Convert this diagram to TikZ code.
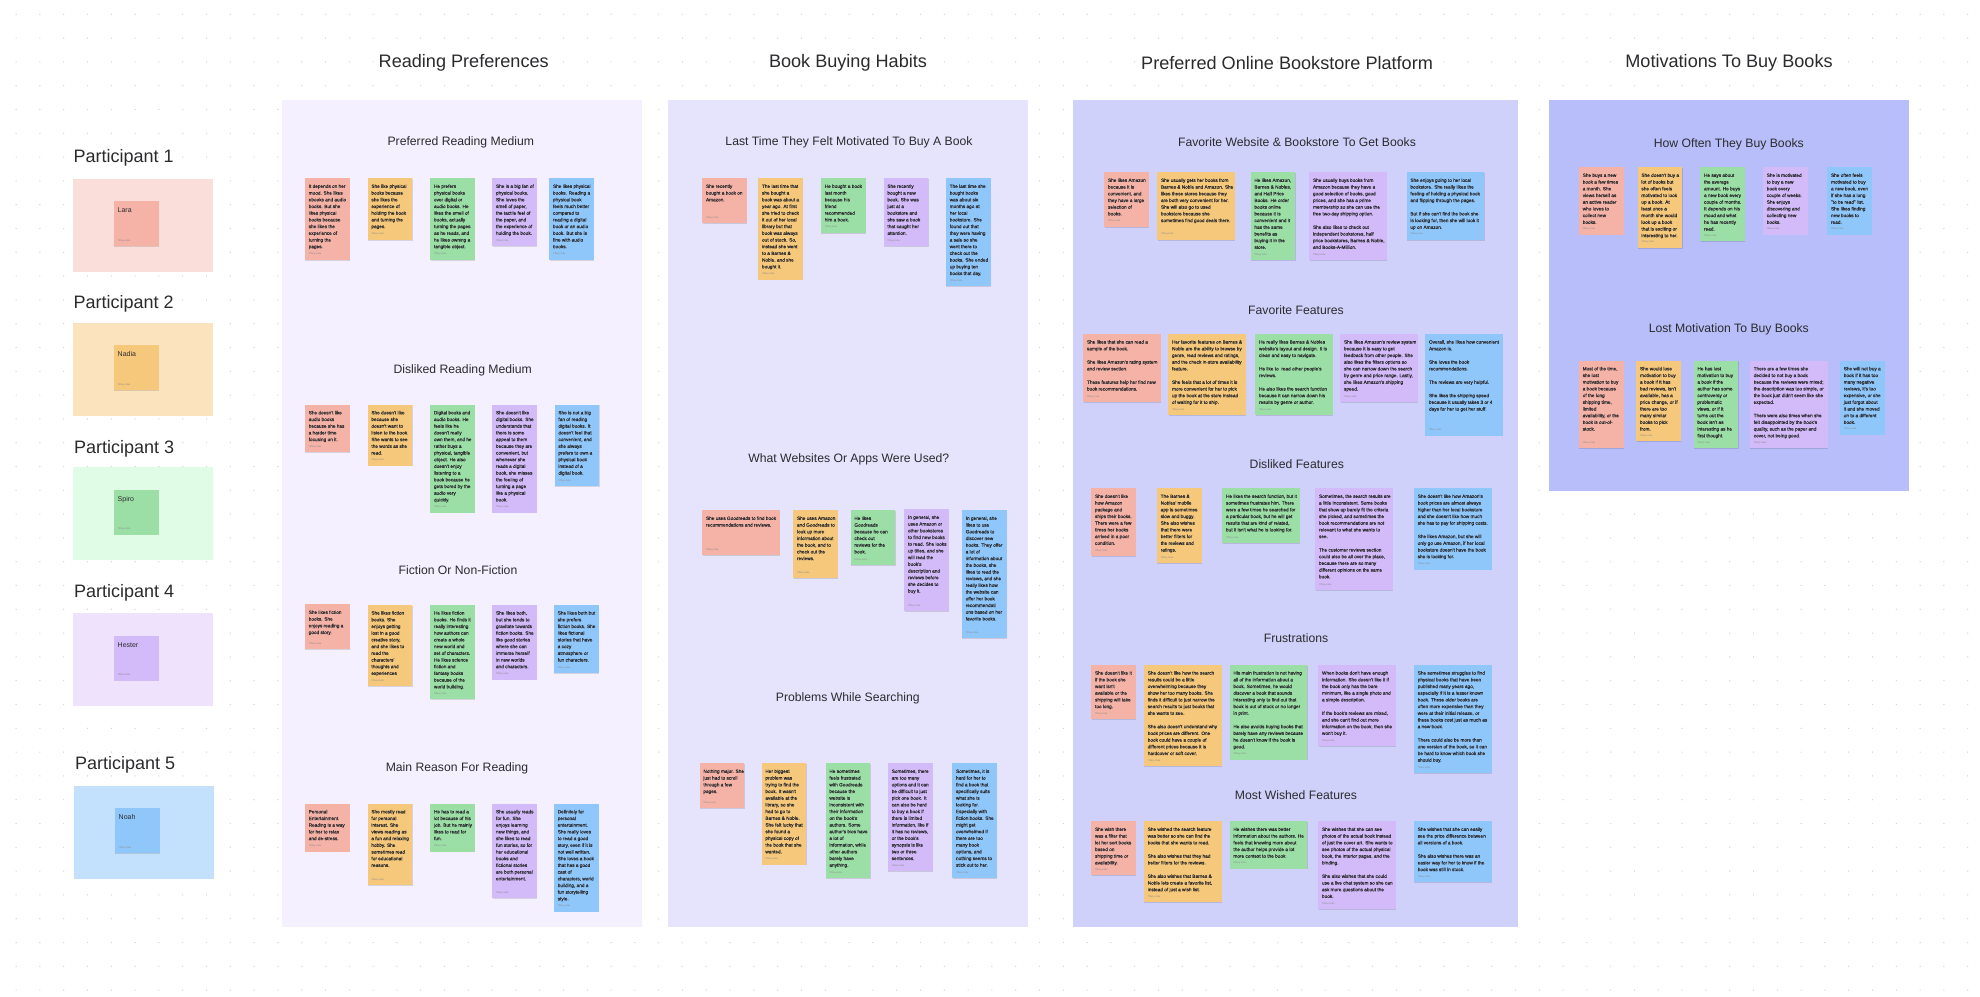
\documentclass[tikz,border=0pt]{standalone}
\usepackage{fontspec}
\setmainfont{Liberation Sans}
\newfontfamily\notefont[FakeBold=0.12]{Liberation Sans}
\usetikzlibrary{shadows}
\definecolor{nred}{HTML}{F5B2A7}
\definecolor{norg}{HTML}{F6C87B}
\definecolor{ngrn}{HTML}{9BDFA6}
\definecolor{npur}{HTML}{D3BAF9}
\definecolor{nblu}{HTML}{90C7FB}
\definecolor{ink}{HTML}{2B2B2E}
\definecolor{griddot}{HTML}{D4D4D4}
\definecolor{pan1c}{HTML}{F4F0FF}
\definecolor{pan2c}{HTML}{E6E3FC}
\definecolor{pan3c}{HTML}{CFD1FA}
\definecolor{pan4c}{HTML}{B8BEF9}
\definecolor{bgred}{HTML}{FADEDA}
\definecolor{bgorg}{HTML}{FAE3BD}
\definecolor{bggrn}{HTML}{E0FCE6}
\definecolor{bgpur}{HTML}{EFE2FC}
\definecolor{bgblu}{HTML}{C3E1FC}
\tikzset{
  griddotstyle/.style={fill=griddot},
  stickybox/.style={draw=none,inner sep=0pt,outer sep=0pt,anchor=north west,
    drop shadow={shadow xshift=0.2pt,shadow yshift=-0.5pt,opacity=.12,fill=black}},
  stickytext/.style={inner sep=0pt,outer sep=0pt,anchor=north west,align=left,text=ink,
    font=\notefont\fontsize{4.72}{6.7}\selectfont},
  stickyauthor/.style={inner sep=0pt,outer sep=0pt,anchor=west,text=ink!55,
    font=\fontsize{2.3}{3}\selectfont},
  panelbox/.style={draw=none,inner sep=0pt,outer sep=0pt,anchor=north west},
  headtitle/.style={inner sep=0pt,text=ink,yshift=-1pt,font=\fontsize{18.1}{22}\selectfont},
  parttitle/.style={inner sep=0pt,anchor=west,text=ink,yshift=-2pt,font=\fontsize{18}{21}\selectfont},
  secttitle/.style={inner sep=0pt,text=ink,yshift=-1pt,font=\fontsize{12.2}{15}\selectfont},
  nametext/.style={inner sep=0pt,outer sep=0pt,anchor=north west,text=ink,font=\fontsize{7}{8}\selectfont},
}
% id, colour, x, y, width, height, text
\newcommand{\stk}[7]{%
  \node[stickybox,fill=#2,minimum width=#5pt,minimum height=#6pt] (#1) at (#3,#4) {};
  \node[stickytext] (#1t) at ([xshift=3.7pt,yshift=-6.2pt]#1.north west) {#7};
  \node[stickyauthor] (#1a) at ([xshift=3.7pt,yshift=5.6pt]#1.south west) {Tiffany India};
}
\newcommand{\prt}[8]{%
  \node[parttitle] (#1l) at (#7,#8) {#6};
  \node[panelbox,fill=#2,minimum width=139.5pt,minimum height=93pt] (#1) at (#3,#4) {};
  \node[stickybox,fill=#5,minimum width=45pt,minimum height=45pt,xshift=41pt,yshift=-22.5pt] (#1n) at (#3,#4) {};
}
\begin{document}
\begin{tikzpicture}[x=1pt,y=-1pt]
\useasboundingbox (0,0) rectangle (1980,996);
\fill[white] (0,0) rectangle (1980,996);
\foreach \i in {0,...,83} { \foreach \j in {0,...,41} { \fill[griddotstyle] ({16.1+23.8*\i},{14.3+23.8*\j}) circle (0.7); } }

% headings
\node[headtitle] (h1) at (463.7,62.3) {Reading Preferences};
\node[headtitle] (h2) at (848,62.3) {Book Buying Habits};
\node[headtitle,anchor=west] (h3) at (1141,62.3) {Preferred Online Bookstore Platform};
\node[headtitle] (h4) at (1729,62.3) {Motivations To Buy Books};

% participants
\prt{pa}{bgred}{73}{178.7}{nred}{Participant 1}{73.3}{156}
\node[nametext] (pat) at ([xshift=3.7pt,yshift=-6.5pt]pan.north west) {Lara};
\node[stickyauthor] (paa) at ([xshift=3.7pt,yshift=5.6pt]pan.south west) {Tiffany India};
\prt{pb}{bgorg}{73}{322.7}{norg}{Participant 2}{73.3}{302.3}
\node[nametext] (pbt) at ([xshift=3.7pt,yshift=-6.5pt]pbn.north west) {Nadia};
\node[stickyauthor] (pba) at ([xshift=3.7pt,yshift=5.6pt]pbn.south west) {Tiffany India};
\prt{pc}{bggrn}{73}{467}{ngrn}{Participant 3}{74}{446.7}
\node[nametext] (pct) at ([xshift=3.7pt,yshift=-6.5pt]pcn.north west) {Spiro};
\node[stickyauthor] (pca) at ([xshift=3.7pt,yshift=5.6pt]pcn.south west) {Tiffany India};
\prt{pd}{bgpur}{73}{613.3}{npur}{Participant 4}{74}{590.7}
\node[nametext] (pdt) at ([xshift=3.7pt,yshift=-6.5pt]pdn.north west) {Hester};
\node[stickyauthor] (pda) at ([xshift=3.7pt,yshift=5.6pt]pdn.south west) {Tiffany India};
\prt{pe}{bgblu}{74}{785.7}{nblu}{Participant 5}{75}{762.7}
\node[nametext] (pet) at ([xshift=3.7pt,yshift=-6.5pt]pen.north west) {Noah};
\node[stickyauthor] (pea) at ([xshift=3.7pt,yshift=5.6pt]pen.south west) {Tiffany India};

% panels
\node[panelbox,fill=pan1c,minimum width=360pt,minimum height=827pt] (pan1) at (281.7,100) {};
\node[panelbox,fill=pan2c,minimum width=360pt,minimum height=827pt] (pan2) at (668,100) {};
\node[panelbox,fill=pan3c,minimum width=444.7pt,minimum height=827pt] (pan3) at (1073.3,100) {};
\node[panelbox,fill=pan4c,minimum width=360.3pt,minimum height=391pt] (pan4) at (1549,100) {};

% panel 1 titles
\node[secttitle] (s11) at (460.8,141) {Preferred Reading Medium};
\node[secttitle] (s12) at (462.7,369) {Disliked Reading Medium};
\node[secttitle] (s13) at (458,569.3) {Fiction Or Non-Fiction};
\node[secttitle] (s14) at (457,767.3) {Main Reason For Reading};
% panel 2 titles
\node[secttitle] (s21) at (849,141) {Last Time They Felt Motivated To Buy A Book};
\node[secttitle] (s22) at (848.8,458) {What Websites Or Apps Were Used?};
\node[secttitle] (s23) at (847.8,697.3) {Problems While Searching};
% panel 3 titles
\node[secttitle] (s31) at (1297,141) {Favorite Website \& Bookstore To Get Books};
\node[secttitle] (s32) at (1296,309.3) {Favorite Features};
\node[secttitle] (s33) at (1296.8,463) {Disliked Features};
\node[secttitle] (s34) at (1296,637.3) {Frustrations};
\node[secttitle] (s35) at (1296,793.7) {Most Wished Features};
% panel 4 titles
\node[secttitle] (s41) at (1728.8,143.3) {How Often They Buy Books};
\node[secttitle] (s42) at (1728.8,328.3) {Lost Motivation To Buy Books};

% ---- Preferred Reading Medium
\stk{a1}{nred}{305}{178.3}{44.7}{81.7}{It depends on her\\mood. She likes\\ebooks and audio\\books. But she\\likes physical\\books because\\she likes the\\experience of\\turning the\\pages.}
\stk{a2}{norg}{367.7}{178.3}{44.7}{61.7}{She like physical\\books because\\she likes the\\experience of\\holding the book\\and turning the\\pages.}
\stk{a3}{ngrn}{430.3}{178.3}{44.7}{81.7}{He prefers\\physical books\\over digital or\\audio books. He\\likes the smell of\\books, actually\\turning the pages\\as he reads, and\\he likes owning a\\tangible object.}
\stk{a4}{npur}{492.3}{178.3}{44.7}{68}{She is a big fan of\\physical books.\\She loves the\\smell of paper,\\the tactile feel of\\the paper, and\\the experience of\\holding the book.}
\stk{a5}{nblu}{549.3}{178.3}{44.7}{81.7}{She likes physical\\books. Reading a\\physical book\\feels much better\\compared to\\reading a digital\\book or an audio\\book. But she is\\fine with audio\\books.}
% ---- Disliked Reading Medium
\stk{b1}{nred}{305}{404.7}{44.7}{47.7}{She doesn't like\\audio books\\because she has\\a harder time\\focusing on it.}
\stk{b2}{norg}{367.7}{404.7}{44.7}{61}{She doesn't like\\because she\\doesn't want to\\listen to the book.\\She wants to see\\the words as she\\read.}
\stk{b3}{ngrn}{430.3}{404.7}{44.7}{108}{Digital books and\\audio books. He\\feels like he\\doesn't really\\own them, and he\\rather buys a\\physical, tangible\\object. He also\\doesn't enjoy\\listening to a\\book because he\\gets bored by the\\audio very\\quickly.}
\stk{b4}{npur}{492.3}{404.7}{44.7}{108}{She doesn't like\\digital books. She\\understands that\\there is some\\appeal to them\\because they are\\convenient, but\\whenever she\\reads a digital\\book, she misses\\the feeling of\\turning a page\\like a physical\\book.}
\stk{b5}{nblu}{554.7}{404.7}{44.7}{81.3}{She is not a big\\fan of reading\\digital books. It\\doesn't feel that\\convenient, and\\she always\\prefers to own a\\physical book\\instead of a\\digital book.}
% ---- Fiction
\stk{c1}{nred}{305}{604.3}{44.7}{44.7}{She likes fiction\\books. She\\enjoys reading a\\good story.}
\stk{c2}{norg}{367.7}{605}{44.7}{81}{She likes fiction\\books. She\\enjoys getting\\lost in a good\\creative story,\\and she likes to\\read the\\characters'\\thoughts and\\experiences}
\stk{c3}{ngrn}{430.3}{605}{44.7}{94.3}{He likes fiction\\books. He finds it\\really interesting\\how authors can\\create a whole\\new world and\\set of characters.\\He likes science\\fiction and\\fantasy books\\because of the\\world building.}
\stk{c4}{npur}{492.3}{605}{44.7}{74.7}{She likes both,\\but she tends to\\gravitate towards\\fiction books. She\\like good stories\\where she can\\immerse herself\\in new worlds\\and characters.}
\stk{c5}{nblu}{554}{605}{44.7}{68}{She likes both but\\she prefers\\fiction books. She\\likes fictional\\stories that have\\a cozy\\atmosphere or\\fun characters.}
% ---- Main reason
\stk{d1}{nred}{305}{803.7}{44.7}{48}{Personal\\Entertainment.\\Reading is a way\\for her to relax\\and de-stress.}
\stk{d2}{norg}{367.7}{803.7}{44.7}{81.3}{She mostly read\\for personal\\interest. She\\views reading as\\a fun and relaxing\\hobby. She\\sometimes read\\for educational\\reasons.}
\stk{d3}{ngrn}{430.3}{803.7}{44.7}{48}{He has to read a\\lot because of his\\job. But he mainly\\likes to read for\\fun.}
\stk{d4}{npur}{492.3}{803.7}{44.7}{94.7}{She usually reads\\for fun. She\\enjoys learning\\new things, and\\she likes to read\\fun stories, so for\\her educational\\books and\\fictional stories\\are both personal\\entertainment.}
\stk{d5}{nblu}{554}{803.7}{44.7}{108}{Definitely for\\personal\\entertainment.\\She really loves\\to read a good\\story, even if it is\\not well written.\\She loves a book\\that has a good\\cast of\\characters, world\\building, and a\\fun storytelling\\style.}

% ---- Last time
\stk{e1}{nred}{702.3}{178.3}{44.7}{45}{She recently\\bought a book on\\Amazon.}
\stk{e2}{norg}{758.3}{178.3}{44.7}{101.3}{The last time that\\she bought a\\book was about a\\year ago. At first\\she tried to check\\it out of her local\\library but that\\book was always\\out of stock. So,\\instead she went\\to a Barnes \&\\Noble, and she\\bought it.}
\stk{e3}{ngrn}{821}{178.3}{44.7}{54.7}{He bought a book\\last month\\because his\\friend\\recommended\\him a book.}
\stk{e4}{npur}{883.7}{178.3}{44.7}{68}{She recently\\bought a new\\book. She was\\just at a\\bookstore and\\she saw a book\\that caught her\\attention.}
\stk{e5}{nblu}{946}{178.3}{44.7}{108}{The last time she\\bought books\\was about six\\months ago at\\her local\\bookstore. She\\found out that\\they were having\\a sale so she\\went there to\\check out the\\books. She ended\\up buying ten\\books that day.}
% ---- Websites
\stk{f1}{nred}{702.3}{510.3}{77.7}{44.7}{She uses Goodreads to find book\\recommendations and reviews.}
\stk{f2}{norg}{793.3}{510.3}{44.7}{68}{She uses Amazon\\and Goodreads to\\look up more\\information about\\the book, and to\\check out the\\reviews.}
\stk{f3}{ngrn}{850.7}{510.3}{44.7}{54.7}{He likes\\Goodreads\\because he can\\check out\\reviews for the\\book.}
\stk{f4}{npur}{904.3}{509.3}{44.7}{101.7}{In general, she\\uses Amazon or\\other bookstores\\to find new books\\to read. She looks\\up titles, and she\\will read the\\book's\\description and\\reviews before\\she decides to\\buy it.}
\stk{f5}{nblu}{962}{510.3}{44.7}{128}{In general, she\\likes to use\\Goodreads to\\discover new\\books. They offer\\a lot of\\information about\\the books, she\\likes to read the\\reviews, and she\\really likes how\\the website can\\offer her book\\recommendati\\ons based on her\\favorite books.}
% ---- Problems
\stk{g1}{nred}{699.7}{763.3}{44.7}{44.7}{Nothing major. She\\just had to scroll\\through a few\\pages.}
\stk{g2}{norg}{761.7}{763.3}{44.7}{101.3}{Her biggest\\problem was\\trying to find the\\book. It wasn't\\available at the\\library, so she\\had to go to\\Barnes \& Noble.\\She felt lucky that\\she found a\\physical copy of\\the book that she\\wanted.}
\stk{g3}{ngrn}{825.7}{763.3}{44.7}{114.7}{He sometimes\\feels frustrated\\with Goodreads\\because the\\website is\\inconsistent with\\their information\\on the book's\\authors. Some\\author's bios have\\a lot of\\information, while\\other authors\\barely have\\anything.}
\stk{g4}{npur}{888}{763.3}{44.7}{108}{Sometimes, there\\are too many\\options and it can\\be difficult to just\\pick one book. It\\can also be hard\\to buy a book if\\there is limited\\information, like if\\it has no reviews,\\or the book's\\synopsis is like\\two or three\\sentences.}
\stk{g5}{nblu}{952.3}{763.3}{44.7}{114.7}{Sometimes, it is\\hard for her to\\find a book that\\specifically suits\\what she is\\looking for.\\Especially with\\fiction books. She\\might get\\overwhelmed if\\there are too\\many book\\options, and\\nothing seems to\\stick out to her.}

% ---- Favorite website
\stk{h1n}{nred}{1104.3}{172.3}{44.7}{54.7}{She likes Amazon\\because it is\\convenient, and\\they have a large\\selection of\\books.}
\stk{h2n}{norg}{1157.3}{172.3}{77.7}{67.7}{She usually gets her books from\\Barnes \& Noble and Amazon. She\\likes these stores because they\\are both very convenient for her.\\She will also go to used\\bookstore because she\\sometimes find good deals there.}
\stk{h3n}{ngrn}{1250.7}{172.3}{44.7}{88}{He likes Amazon,\\Barnes \& Nobles,\\and Half Price\\Books. He order\\books online\\because it is\\convenient and it\\has the same\\benefits as\\buying it in the\\store.}
\stk{h4n}{npur}{1309.3}{172.3}{77.7}{88}{She usually buys books from\\Amazon because they have a\\good selection of books, good\\prices, and she has a prime\\membership so she can use the\\free two-day shipping option.\\[6.7pt]She also likes to check out\\independent bookstores, half\\price bookstores, Barnes \& Noble,\\and Books-A-Million.}
\stk{h5n}{nblu}{1406.7}{172.3}{77.7}{67.7}{She enjoys going to her local\\bookstore. She really likes the\\feeling of holding a physical book\\and flipping through the pages.\\[6.7pt]But if she can't find the book she\\is looking for, then she will look it\\up on Amazon.}
% ---- Favorite features
\stk{i1}{nred}{1083.3}{334}{77.7}{68}{She likes that she can read a\\sample of the book.\\[6.7pt]She likes Amazon's rating system\\and review section.\\[6.7pt]These features help her find new\\book recommendations.}
\stk{i2}{norg}{1168.3}{334}{77.7}{81.3}{Her favorite features on Barnes \&\\Noble are the ability to browse by\\genre, read reviews and ratings,\\and the check in-store availability\\feature.\\[6.7pt]She feels that a lot of times it is\\more convenient for her to pick\\up the book at the store instead\\of waiting for it to ship.}
\stk{i3}{ngrn}{1255.3}{334}{77.7}{81.3}{He really likes Barnes \& Nobles\\website's layout and design. It is\\clean and easy to navigate.\\[6.7pt]He like to\ \ read other people's\\reviews.\\[6.7pt]He also likes the search function\\because it can narrow down his\\results by genre or author.}
\stk{i4}{npur}{1340.3}{334}{77.7}{68}{She likes Amazon's review system\\because it is easy to get\\feedback from other people. She\\also likes the filters options so\\she can narrow down the search\\by genre and price range. Lastly,\\she likes Amazon's shipping\\speed.}
\stk{i5}{nblu}{1425.3}{334}{77.7}{101.7}{Overall, she likes how convenient\\Amazon is.\\[6.7pt]She loves the book\\recommendations.\\[6.7pt]The reviews are very helpful.\\[6.7pt]She likes the shipping speed\\because it usually takes 3 or 4\\days for her to get her stuff.}
% ---- Disliked features
\stk{j1}{nred}{1091.3}{488.3}{44.7}{68}{She doesn't like\\how Amazon\\package and\\ships their books.\\There were a few\\times her books\\arrived in a poor\\condition.}
\stk{j2}{norg}{1157}{488.3}{44.7}{74.7}{The Barnes \&\\Nobles' mobile\\app is sometimes\\slow and buggy.\\She also wishes\\that there were\\better filters for\\the reviews and\\ratings.}
\stk{j3}{ngrn}{1222.3}{488.3}{77.7}{54.7}{He likes the search function, but it\\sometimes frustrates him. There\\were a few times he searched for\\a particular book, but he will get\\results that are kind of related,\\but it isn't what he is looking for.}
\stk{j4}{npur}{1315.3}{488.3}{77.7}{101.7}{Sometimes, the search results are\\a little inconsistent. Some books\\that show up barely fit the criteria\\she picked, and sometimes the\\book recommendations are not\\relevant to what she wants to\\see.\\[6.7pt]The customer reviews section\\could also be all over the place,\\because there are so many\\different opinions on the same\\book.}
\stk{j5}{nblu}{1414}{488.3}{77.7}{81.3}{She doesn't like how Amazon's\\book prices are almost always\\higher than her local bookstore\\and she doesn't like how much\\she has to pay for shipping costs.\\[6.7pt]She likes Amazon, but she will\\only go use Amazon, if her local\\bookstore doesn't have the book\\she is looking for.}
% ---- Frustrations
\stk{k1}{nred}{1091.3}{665}{44.7}{54.3}{She doesn't like it\\if the book she\\want isn't\\available or the\\shipping will take\\too long.}
\stk{k2}{norg}{1144}{665}{77.7}{101}{She doesn't like how the search\\results could be a little\\overwhelming because they\\show her too many books. She\\finds it difficult to just narrow the\\search results to just books that\\she wants to see.\\[6.7pt]She also doesn't understand why\\book prices are different. One\\book could have a couple of\\different prices because it is\\hardcover or soft cover.}
\stk{k3}{ngrn}{1229.7}{665}{77.7}{94.7}{His main frustration is not having\\all of the information about a\\book. Sometimes, he would\\discover a book that sounds\\interesting only to find out that\\book is out of stock or no longer\\in print.\\[6.7pt]He also avoids buying books that\\barely have any reviews because\\he doesn't know if the book is\\good.}
\stk{k4}{npur}{1318.3}{665}{77.7}{81.3}{When books don't have enough\\information. She doesn't like it if\\the book only has the bare\\minimum, like a single photo and\\a simple description.\\[6.7pt]If the book's reviews are mixed,\\and she can't find out more\\information on the book, then she\\won't buy it.}
\stk{k5}{nblu}{1414}{665}{77.7}{108}{She sometimes struggles to find\\physical books that have been\\published many years ago,\\especially if it is a lesser known\\book. These older books are\\often more expensive than they\\were at their initial release, or\\these books cost just as much as\\a new book.\\[6.7pt]There could also be more than\\one version of the book, so it can\\be hard to know which book she\\should buy.}
% ---- Most wished
\stk{l1}{nred}{1091.3}{821.3}{44.7}{54}{She wish there\\was a filter that\\let her sort books\\based on\\shipping time or\\availability.}
\stk{l2}{norg}{1144}{821.3}{77.7}{80.7}{She wished the search feature\\was better so she can find the\\books that she wants to read.\\[6.7pt]She also wishes that they had\\better filters for the reviews.\\[6.7pt]She also wishes that Barnes \&\\Noble lets create a favorite list,\\instead of just a wish list.}
\stk{l3}{ngrn}{1229.7}{821.3}{77.7}{47.3}{He wishes there was better\\information about the authors. He\\feels that knowing more about\\the author helps provide a lot\\more context to the book.}
\stk{l4}{npur}{1318.3}{821.3}{77.7}{87.7}{She wishes that she can see\\photos of the actual book instead\\of just the cover art. She wants to\\see photos of the actual physical\\book, the interior pages, and the\\binding.\\[6.7pt]She also wishes that she could\\use a live chat system so she can\\ask more questions about the\\book.}
\stk{l5}{nblu}{1414}{821.3}{77.7}{60.7}{She wishes that she can easily\\see the price difference between\\all versions of a book.\\[6.7pt]She also wishes there was an\\easier way for her to know if the\\book was still in stock.}

% ---- How often
\stk{m1}{nred}{1579}{167.3}{44.7}{67.3}{She buys a new\\book a few times\\a month. She\\views herself as\\an active reader\\who loves to\\collect new\\books.}
\stk{m2}{norg}{1637.7}{167.3}{44.7}{80.7}{She doesn't buy a\\lot of books but\\she often feels\\motivated to look\\up a book. At\\least once a\\month she would\\look up a book\\that is exciting or\\interesting to her.}
\stk{m3}{ngrn}{1700.3}{167.3}{44.7}{74}{He says about\\the average\\amount. He buys\\a new book every\\couple of months.\\It depends on his\\mood and what\\he has recently\\read.}
\stk{m4}{npur}{1763}{167.3}{44.7}{67.3}{She is motivated\\to buy a new\\book every\\couple of weeks.\\She enjoys\\discovering and\\collecting new\\books.}
\stk{m5}{nblu}{1827.3}{167.3}{44.7}{67.3}{She often feels\\motivated to buy\\a new book, even\\if she has a long\\"to be read" list.\\She likes finding\\new books to\\read.}
% ---- Lost motivation
\stk{n1}{nred}{1579}{360.7}{44.7}{87.3}{Most of the time,\\she lost\\motivation to buy\\a book because\\of the long\\shipping time,\\limited\\availability, or the\\book is out-of-\\stock.}
\stk{n2}{norg}{1636.3}{360.7}{44.7}{80.7}{She would lose\\motivation to buy\\a book if it has\\bad reviews, isn't\\available, has a\\price change, or if\\there are too\\many similar\\books to pick\\from.}
\stk{n3}{ngrn}{1693.7}{360.7}{44.7}{87.3}{He has lost\\motivation to buy\\a book if the\\author has some\\controversy or\\problematic\\views, or if it\\turns out the\\book isn't as\\interesting as he\\first thought.}
\stk{n4}{npur}{1750}{360.7}{77.7}{87.3}{There are a few times she\\decided to not buy a book\\because the reviews were mixed;\\the description was too simple, or\\the book just didn't seem like she\\expected.\\[6.7pt]There were also times when she\\felt disappointed by the book's\\quality, such as the paper and\\cover, not being good.}
\stk{n5}{nblu}{1840}{360.7}{44.7}{74}{She will not buy a\\book if it has too\\many negative\\reviews, it's too\\expensive, or she\\just forgot about\\it and she moved\\on to a different\\book.}
\end{tikzpicture}
\end{document}
